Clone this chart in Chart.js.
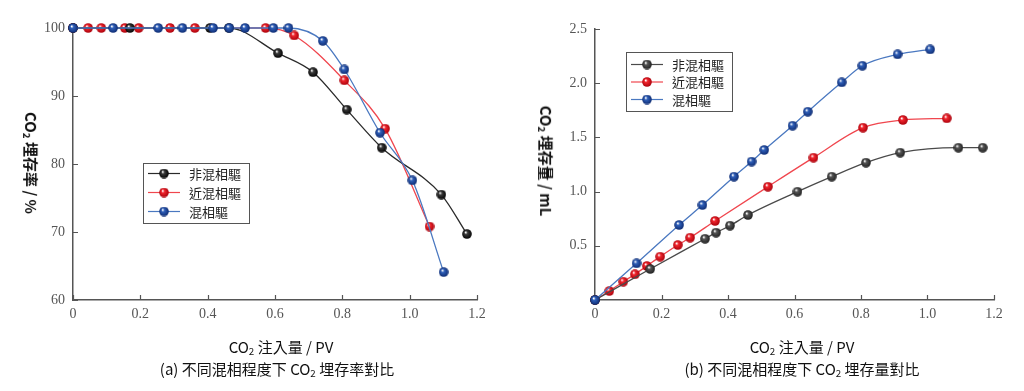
<!DOCTYPE html>
<html>
<head>
<meta charset="utf-8">
<script src="https://cdn.jsdelivr.net/npm/chart.js@4.4.1/dist/chart.umd.min.js"></script>
<style>
  body { margin: 0; background: #fff; width: 1024px; height: 391px; overflow: hidden; position: relative; }
  canvas { position: absolute; top: 0; }
  .txt { position: absolute; white-space: nowrap; font-family: "Noto Sans CJK TC", "Noto Sans", sans-serif; color: #111; font-size: 15px; transform: translate(-50%, -50%); line-height: 1; }
  .ytitle { font-weight: bold; transform: translate(-50%, -50%) rotate(90deg); }
  sub { font-size: 0.65em; vertical-align: -0.25em; }
</style>
</head>
<body>
<canvas id="rateChart" width="512" height="391" style="left:0"></canvas>
<canvas id="amountChart" width="512" height="391" style="left:512px"></canvas>

<div class="txt ytitle" style="left:30px; top:163px">CO<sub>2</sub> 埋存率 / %</div>
<div class="txt ytitle" style="left:545px; top:161px">CO<sub>2</sub> 埋存量 / mL</div>
<div class="txt" style="left:281px; top:348px">CO<sub>2</sub> 注入量 / PV</div>
<div class="txt" style="left:277px; top:370px">(a) 不同混相程度下 CO<sub>2</sub> 埋存率對比</div>
<div class="txt" style="left:802px; top:348px">CO<sub>2</sub> 注入量 / PV</div>
<div class="txt" style="left:802px; top:370px">(b) 不同混相程度下 CO<sub>2</sub> 埋存量對比</div>

<script>
// series names
const seriesNames = ['非混相驅', '近混相驅', '混相驅'];

// (a) storage rate, %
const rateBlackX = [0, 0.169, 0.407, 0.463, 0.609, 0.713, 0.813, 0.917, 1.094, 1.170];
const rateBlackY = [100, 100, 100, 100, 96.3, 93.5, 88.0, 82.4, 75.5, 69.7];
const rateRedX = [0, 0.045, 0.084, 0.154, 0.195, 0.288, 0.362, 0.572, 0.657, 0.806, 0.927, 1.059];
const rateRedY = [100, 100, 100, 100, 100, 100, 100, 100, 98.9, 92.3, 85.2, 70.8];
const rateBlueX = [0, 0.119, 0.253, 0.325, 0.416, 0.464, 0.511, 0.595, 0.640, 0.742, 0.806, 0.912, 1.008, 1.101];
const rateBlueY = [100, 100, 100, 100, 100, 100, 100, 100, 100, 98.1, 93.9, 84.6, 77.6, 64.1];

// (b) stored amount, mL
const amtBlackX = [0, 0.166, 0.331, 0.364, 0.406, 0.460, 0.609, 0.712, 0.815, 0.918, 1.093, 1.166];
const amtBlackY = [0, 0.286, 0.565, 0.621, 0.686, 0.784, 0.999, 1.138, 1.267, 1.359, 1.405, 1.405];
const amtRedX = [0, 0.043, 0.085, 0.120, 0.156, 0.196, 0.249, 0.286, 0.361, 0.520, 0.657, 0.806, 0.926, 1.058];
const amtRedY = [0, 0.083, 0.169, 0.237, 0.314, 0.400, 0.507, 0.575, 0.729, 1.045, 1.313, 1.590, 1.661, 1.676];
const amtBlueX = [0, 0.125, 0.253, 0.323, 0.418, 0.471, 0.509, 0.594, 0.640, 0.742, 0.804, 0.910, 1.008];
const amtBlueY = [0, 0.338, 0.692, 0.876, 1.138, 1.277, 1.384, 1.608, 1.737, 2.008, 2.161, 2.266, 2.312];

// axis ranges
const xRange = [0, 1.2, 0.2];
const rateRange = [60, 100, 10];
const amtRange = [0, 2.5, 0.5];

function pts(xs, ys) {
  return xs.map((x, i) => ({ x: x, y: ys[i] }));
}

// little shaded balls like the original markers
function makeBall(base, dark) {
  const c = document.createElement('canvas');
  c.width = 10; c.height = 10;
  const g = c.getContext('2d');
  const grad = g.createRadialGradient(3.6, 3.2, 0.3, 5, 5, 5);
  grad.addColorStop(0, '#ffffff');
  grad.addColorStop(0.3, base);
  grad.addColorStop(1, dark);
  g.fillStyle = grad;
  g.beginPath();
  g.arc(5, 5, 4.8, 0, Math.PI * 2);
  g.fill();
  return c;
}

const balls = {
  black: makeBall('#3a3a3a', '#000000'),
  gray: makeBall('#555555', '#1e1e1e'),
  red: makeBall('#f0262e', '#a8000a'),
  blue: makeBall('#2f5fb8', '#0d2a70')
};

// inward tick marks
const innerTicks = {
  id: 'innerTicks',
  beforeDatasetsDraw(chart) {
    const { ctx, chartArea, scales } = chart;
    ctx.save();
    ctx.strokeStyle = '#555';
    ctx.lineWidth = 1.2;
    ctx.beginPath();
    scales.x.ticks.forEach(t => {
      const px = Math.round(scales.x.getPixelForValue(t.value)) + 0.5;
      ctx.moveTo(px, chartArea.bottom);
      ctx.lineTo(px, chartArea.bottom - 5);
    });
    scales.y.ticks.forEach(t => {
      const py = Math.round(scales.y.getPixelForValue(t.value)) + 0.5;
      ctx.moveTo(chartArea.left, py);
      ctx.lineTo(chartArea.left + 5, py);
    });
    ctx.stroke();
    ctx.restore();
  }
};

// boxed legend placed inside the plot
const boxLegend = {
  id: 'boxLegend',
  afterDatasetsDraw(chart, args, o) {
    const ctx = chart.ctx;
    ctx.save();
    ctx.fillStyle = '#fff';
    ctx.fillRect(o.x, o.y, o.w, o.h);
    ctx.strokeStyle = '#555';
    ctx.lineWidth = 1;
    ctx.strokeRect(o.x + 0.5, o.y + 0.5, o.w, o.h);
    ctx.font = '13px "Noto Sans CJK TC", sans-serif';
    ctx.textBaseline = 'middle';
    chart.data.datasets.forEach((ds, i) => {
      const y = o.y + o.first + i * o.step;
      ctx.strokeStyle = ds.borderColor;
      ctx.lineWidth = 1.2;
      ctx.beginPath();
      ctx.moveTo(o.x + 5, y);
      ctx.lineTo(o.x + 37, y);
      ctx.stroke();
      ctx.drawImage(ds.pointStyle, o.x + 21 - 5, y - 5);
      ctx.fillStyle = '#222';
      ctx.fillText(ds.label, o.x + 46, y + 0.5);
    });
    ctx.restore();
  }
};

function makeDataset(label, data, line, ball, order) {
  return {
    label: label,
    data: data,
    borderColor: line,
    borderWidth: 1.3,
    pointStyle: ball,
    pointRadius: 5,
    cubicInterpolationMode: 'monotone',
    clip: false,
    order: order
  };
}

function axes(yr, yWidth, hideZero) {
  return {
    x: {
      type: 'linear', min: xRange[0], max: xRange[1],
      afterFit: s => { s.height = 30; },
      grid: { drawOnChartArea: false, drawTicks: false },
      border: { color: '#555', width: 1.5 },
      ticks: {
        stepSize: xRange[2], padding: 6, color: '#555',
        font: { family: '"Liberation Serif", serif', size: 14 },
        callback: v => (Math.abs(v) < 1e-9 ? '0' : v.toFixed(1))
      }
    },
    y: {
      type: 'linear', min: yr[0], max: yr[1],
      afterFit: s => { s.width = yWidth; },
      grid: { drawOnChartArea: false, drawTicks: false },
      border: { color: '#555', width: 1.5 },
      ticks: {
        stepSize: yr[2], padding: 8, color: '#555',
        font: { family: '"Liberation Serif", serif', size: 14 },
        callback: v => {
          if (Math.abs(v) < 1e-9) return hideZero ? '' : '0';
          return yr[2] < 1 ? v.toFixed(1) : String(Math.round(v));
        }
      }
    }
  };
}

new Chart(document.getElementById('rateChart'), {
  type: 'line',
  data: {
    datasets: [
      makeDataset(seriesNames[0], pts(rateBlackX, rateBlackY), '#2a2a2a', balls.black, 2),
      makeDataset(seriesNames[1], pts(rateRedX, rateRedY), '#f0464e', balls.red, 3),
      makeDataset(seriesNames[2], pts(rateBlueX, rateBlueY), '#4a78c0', balls.blue, 1)
    ]
  },
  options: {
    responsive: false,
    animation: false,
    events: [],
    layout: { padding: { left: 33, right: 35, top: 28, bottom: 61 } },
    scales: axes(rateRange, 40, false),
    plugins: {
      legend: { display: false },
      tooltip: { enabled: false },
      boxLegend: { x: 143, y: 163, w: 106, h: 60, first: 10.5, step: 19 }
    }
  },
  plugins: [innerTicks, boxLegend]
});

new Chart(document.getElementById('amountChart'), {
  type: 'line',
  data: {
    datasets: [
      makeDataset(seriesNames[0], pts(amtBlackX, amtBlackY), '#4a4a4a', balls.gray, 2),
      makeDataset(seriesNames[1], pts(amtRedX, amtRedY), '#f0464e', balls.red, 3),
      makeDataset(seriesNames[2], pts(amtBlueX, amtBlueY), '#4a78c0', balls.blue, 1)
    ]
  },
  options: {
    responsive: false,
    animation: false,
    events: [],
    layout: { padding: { left: 43, right: 30, top: 29, bottom: 61 } },
    scales: axes(amtRange, 40, true),
    plugins: {
      legend: { display: false },
      tooltip: { enabled: false },
      boxLegend: { x: 114, y: 52, w: 106, h: 59, first: 12.5, step: 17.5 }
    }
  },
  plugins: [innerTicks, boxLegend]
});
</script>
</body>
</html>
